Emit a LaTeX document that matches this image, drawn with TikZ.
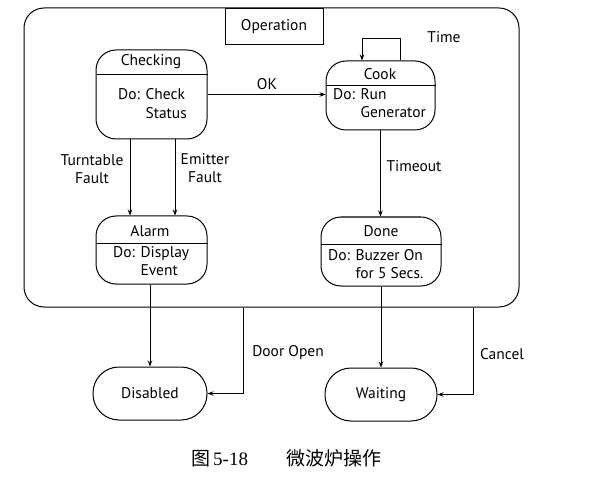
\documentclass[tikz,border=0pt]{standalone}
\usepackage{fontspec}
\setmainfont{PT Sans}
\newfontfamily\cjk{Noto Sans CJK SC}
\newfontfamily\capnum{Liberation Serif}
\usetikzlibrary{arrows.meta}
\begin{document}
\begin{tikzpicture}[x=1pt,y=-1pt,
	every node/.style={font=\fontsize{15.5}{18.5}\selectfont},
	state/.style={draw, line width=1pt, rounded corners=20pt, inner sep=0pt},
	tr/.style={line width=0.9pt, -{Stealth[length=6pt,width=4.5pt]}},
	act/.style={anchor=west, inner sep=0pt}]
	%\draw[help lines] (0,0) grid[step=50] (596,478);
	\useasboundingbox (0,0) rectangle (596,478);
	\node[state, minimum width=495, minimum height=299] (op) at (271.5,157.5) {};
	\node[draw, line width=1pt, minimum width=98, minimum height=36, anchor=north] (optitle) at (274,8) {Operation};

	\node[state, minimum width=111, minimum height=89] (chk) at (151.5,94.5) {};
	\draw[line width=1pt] (chk.west |- 0,75) -- (chk.east |- 0,75);
	\node (chkname) at (151,62) {Checking};
	\node[act] (chkdo) at (118,105.5) {\begin{tabular}{@{}l@{ }l@{}}Do: & Check\\ & Status\end{tabular}};

	\node[state, minimum width=109, minimum height=69] (cook) at (380.5,95.5) {};
	\draw[line width=1pt] (cook.west |- 0,86) -- (cook.east |- 0,86);
	\node (cookname) at (380,74) {Cook};
	\node[act] (cookdo) at (333,105) {\begin{tabular}{@{}l@{ }l@{}}Do: & Run\\ & Generator\end{tabular}};

	\node[state, minimum width=111, minimum height=68] (alarm) at (151.5,250) {};
	\draw[line width=1pt] (alarm.west |- 0,243) -- (alarm.east |- 0,243);
	\node (alarmname) at (150,231) {Alarm};
	\node[act] (alarmdo) at (113,263) {\begin{tabular}{@{}l@{ }l@{}}Do: & Display\\ & Event\end{tabular}};

	\node[state, minimum width=120, minimum height=69] (done) at (381,251.5) {};
	\draw[line width=1pt] (done.west |- 0,244) -- (done.east |- 0,244);
	\node (donename) at (381,231) {Done};
	\node[act] (donedo) at (328,266) {\begin{tabular}{@{}l@{ }l@{}}Do: & Buzzer On\\ & for 5 Secs.\end{tabular}};

	\node[state, rounded corners=26pt, minimum width=114, minimum height=53] (disabled) at (150,393.5) {Disabled};
	\node[state, rounded corners=26pt, minimum width=112, minimum height=53] (waiting) at (381,394.5) {Waiting};

	\draw[tr] (chk.east) -- (chk.east -| cook.west);
	\node (ok) at (267,84) {OK};
	\draw[tr] ([xshift=-21.5]chk.south) -- ([xshift=-21.5]chk.south |- alarm.north);
	\draw[tr] ([xshift=23.5]chk.south) -- ([xshift=23.5]chk.south |- alarm.north);
	\node[align=center] (turntable) at (92,169) {Turntable\\Fault};
	\node[align=center] (emitter) at (205,168) {Emitter\\Fault};
	\draw[tr] ([xshift=19.5]cook.north) -- ++(0,-22) -| ([xshift=-18.5]cook.north);
	\node (time) at (444,37) {Time};
	\draw[tr] (cook.south) -- (cook.south |- done.north);
	\node (timeout) at (414,166) {Timeout};
	\draw[tr] (disabled.north |- alarm.south) -- (disabled.north);
	\draw[tr] (waiting.north |- done.south) -- (waiting.north);
	\coordinate (dooropen) at (op.south -| 243,0);
	\draw[tr] (dooropen) |- (disabled.east);
	\node (dooropenlbl) at (288,353) {Door Open};
	\coordinate (cancel) at (op.south -| 473,0);
	\draw[tr] (cancel) |- (waiting.east);
	\node (cancellbl) at (502,354) {Cancel};

	\node (caption) at (286,458) {\fontsize{19}{22}\selectfont\cjk 图\,\capnum 5-18\hspace{38pt}\cjk 微波炉操作};
\end{tikzpicture}
\end{document}
